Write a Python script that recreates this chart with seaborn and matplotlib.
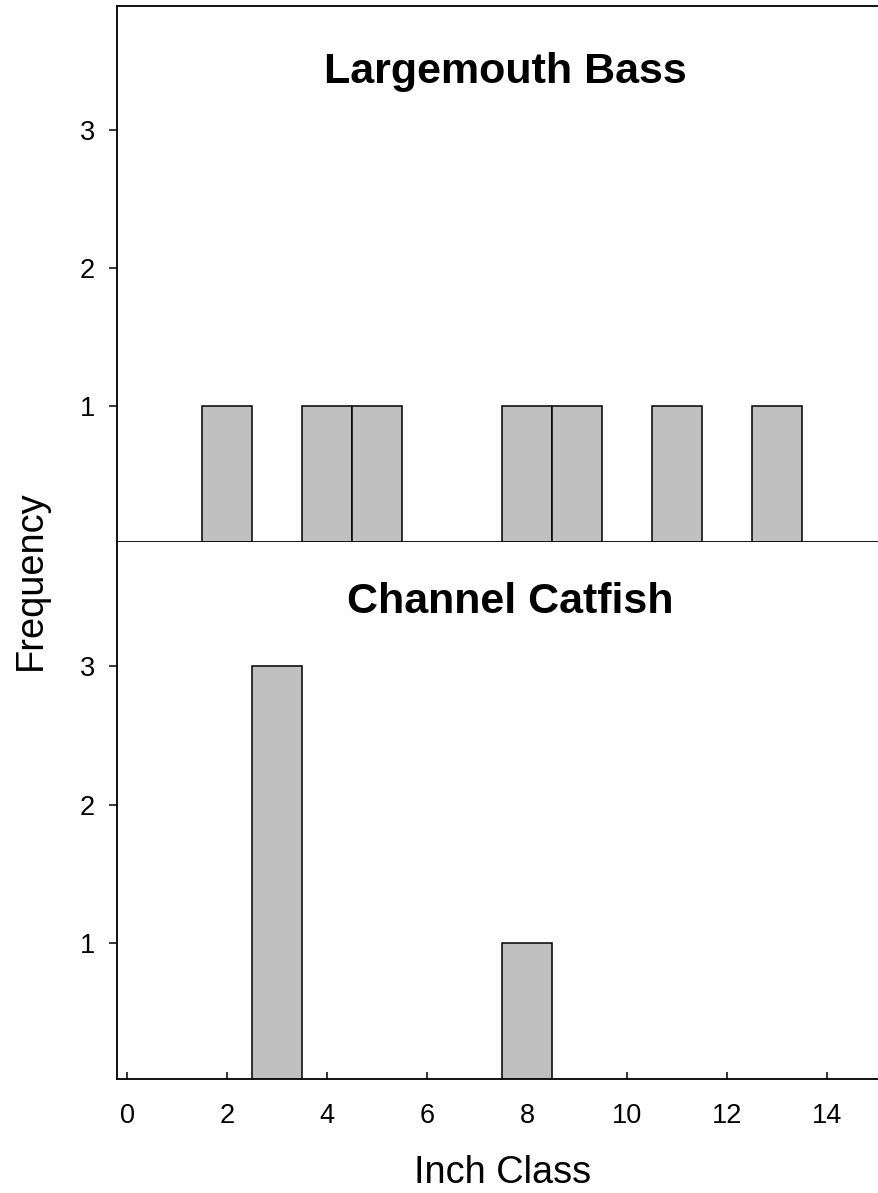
import matplotlib
matplotlib.use("Agg")
import matplotlib.pyplot as plt
import seaborn as sns
import pandas as pd

# inch classes and counts
bass_class = [2, 4, 5, 8, 9, 11, 13]
bass_count = [1, 1, 1, 1, 1, 1, 1]
cat_class = [3, 8]
cat_count = [3, 1]

x_ticks = [0, 2, 4, 6, 8, 10, 12, 14]
y_ticks = [1, 2, 3]

sns.set_theme(style="ticks")
plt.rcParams["font.family"] = ["Liberation Sans", "DejaVu Sans"]
plt.rcParams["text.color"] = "black"
plt.rcParams["axes.labelcolor"] = "black"

W, H = 879, 1193
fig = plt.figure(figsize=(W / 100, H / 100), dpi=100)
left = 117.3 / W
width = 1 - left
ax1 = fig.add_axes([left, 1 - 542 / H, width, 536 / H])
ax2 = fig.add_axes([left, 1 - 1079 / H, width, 537 / H])

bass = pd.DataFrame({"inch": bass_class, "n": bass_count})
cat = pd.DataFrame({"inch": cat_class, "n": cat_count})

for ax, df in [(ax1, bass), (ax2, cat)]:
    sns.histplot(data=df, x="inch", weights="n", discrete=True, ax=ax,
                 color="#c0c0c0", edgecolor="black", linewidth=1.1, alpha=1)
    ax.set_xlim(-0.2, 15.03)
    ax.set_ylim(0.015, 3.9)
    ax.set_yticks(y_ticks)
    ax.set_yticklabels([str(v) for v in y_ticks])
    ax.tick_params(axis="y", direction="out", length=5.8, width=1.1,
                   pad=10.5, labelsize=19.5, colors="black")
    ax.set_xlabel("")
    ax.set_ylabel("")
    ax.spines["right"].set_visible(False)
    for s in ["left", "bottom", "top"]:
        ax.spines[s].set_linewidth(1.3)
        ax.spines[s].set_color("black")

ax1.spines["top"].set_visible(True)
ax1.tick_params(axis="x", bottom=False, labelbottom=False)
ax2.spines["top"].set_visible(False)
ax2.set_xticks(x_ticks)
ax2.set_xticklabels([str(v) for v in x_ticks])
ax2.tick_params(axis="x", direction="in", length=5, width=1.1,
                pad=17, labelsize=19.5, colors="black")

ax1.text(7.56, 3.344, "Largemouth Bass", ha="center", va="baseline",
         fontsize=31, fontweight="bold", color="black")
ax2.text(7.65, 3.385, "Channel Catfish", ha="center", va="baseline",
         fontsize=31, fontweight="bold", color="black")

fig.text(31 / W, 1 - 580 / H, "Frequency", rotation=90, ha="center",
         va="center", fontsize=27.4, color="black")
fig.text(502.5 / W, 1 - 1183 / H, "Inch Class", ha="center",
         va="baseline", fontsize=27.4, color="black")

fig.savefig("out.png", dpi=100, facecolor="white")
